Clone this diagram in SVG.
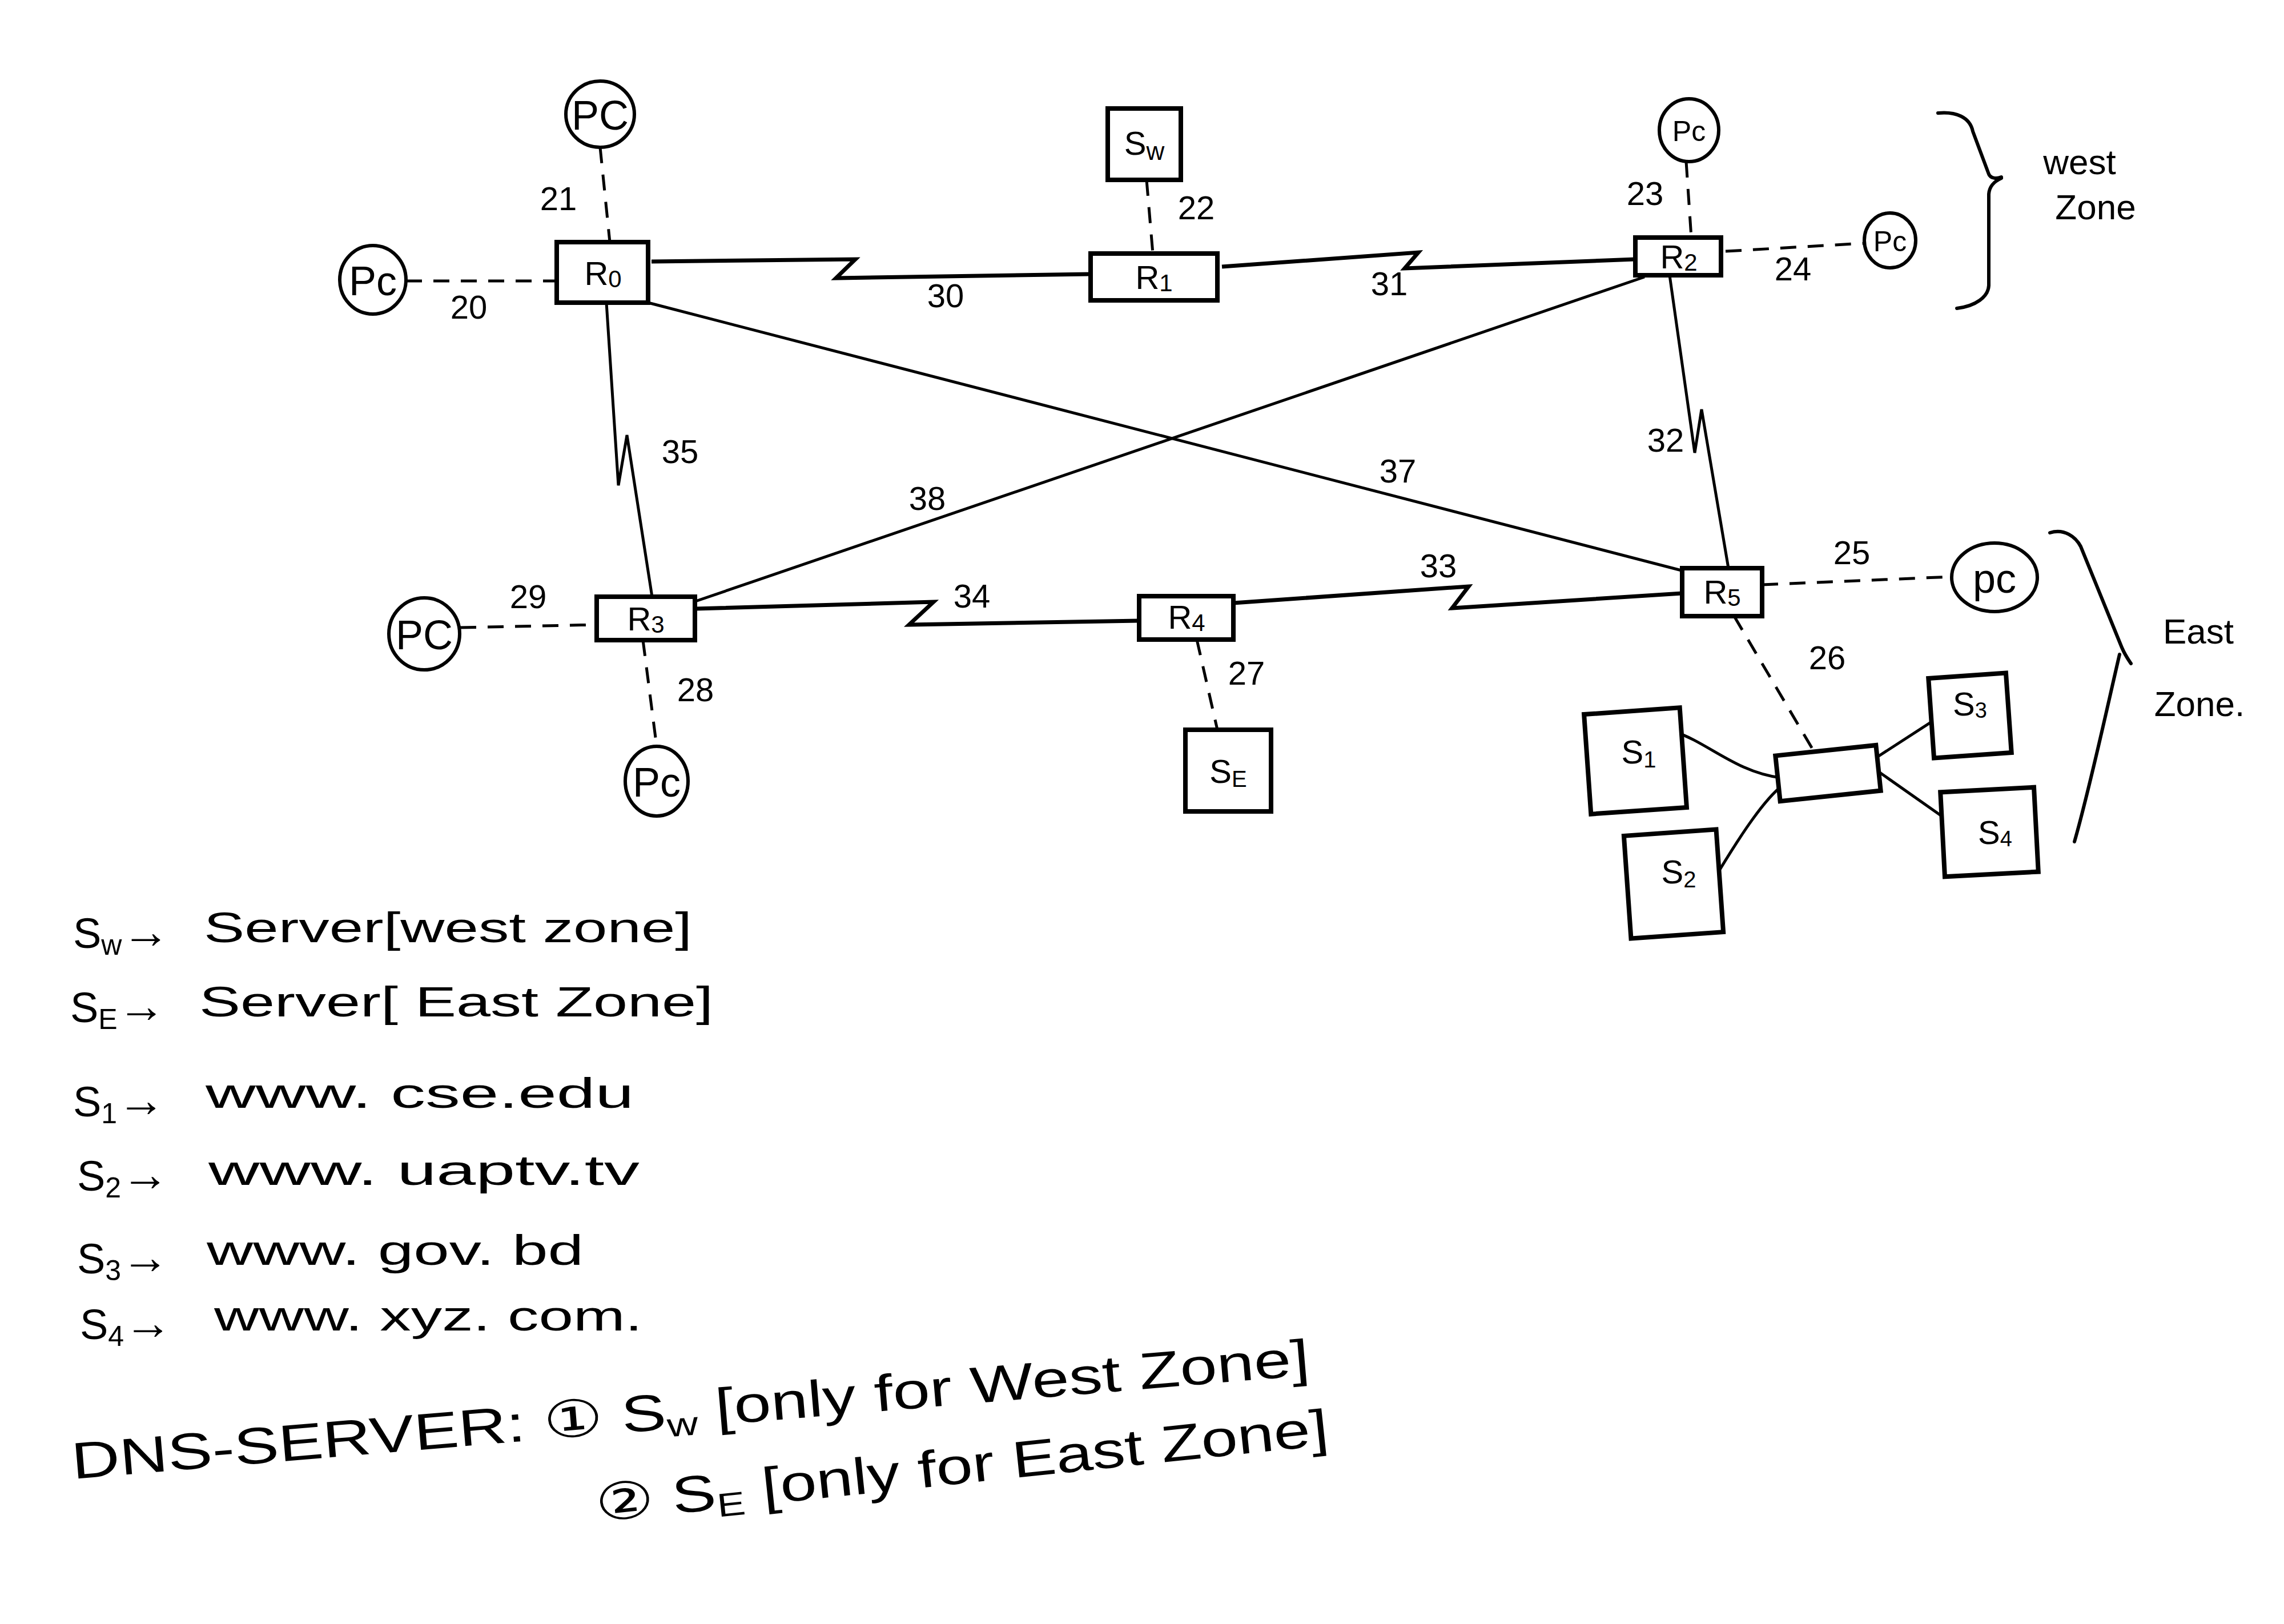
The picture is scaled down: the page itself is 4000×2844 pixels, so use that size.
<svg xmlns="http://www.w3.org/2000/svg" width="4000" height="2844" viewBox="0 0 4000 2844">
<style>
.box{fill:#fff;stroke:#000;stroke-width:8}
.pc{fill:#fff;stroke:#000;stroke-width:6}
.ser{fill:none;stroke:#000;stroke-width:7;stroke-linejoin:miter}
.thin{fill:none;stroke:#000;stroke-width:5}
.dash{fill:none;stroke:#000;stroke-width:5;stroke-dasharray:28 20}
.brace{fill:none;stroke:#000;stroke-width:6;stroke-linecap:round}
text{font-family:"Liberation Sans","DejaVu Sans",sans-serif;fill:#000}
.lbl{font-size:58px;text-anchor:middle;dominant-baseline:central}
.nd{font-size:58px;text-anchor:middle;dominant-baseline:central}
.pct{font-size:72px;text-anchor:middle;dominant-baseline:central}
.pcs{font-size:50px;text-anchor:middle;dominant-baseline:central}
.leg{font-size:74px}
.arr{font-size:84px}
.dns{font-size:90px}
.zone{font-size:62px;text-anchor:middle;dominant-baseline:central}
</style>
<rect x="0" y="0" width="4000" height="2844" fill="#fff"/>

<g id="connectors">
  <line class="dash" x1="1051" y1="258" x2="1068" y2="424"/>
  <line class="dash" x1="711" y1="492" x2="975" y2="492"/>
  <line class="dash" x1="2008" y1="315" x2="2019" y2="444"/>
  <polyline class="ser" points="1141,458 1498,454 1464,487 1910,480"/>
  <polyline class="ser" points="2140,467 2484,442 2460,470 2864,454"/>
  <line class="dash" x1="2953" y1="283" x2="2962" y2="416"/>
  <line class="dash" x1="3022" y1="440" x2="3265" y2="426"/>
  <polyline class="thin" points="1062,530 1083,850 1098,762 1142,1045"/>
  <polyline class="thin" points="2924,482 2968,793 2980,717 3027,995"/>
  <line class="thin" x1="1135" y1="530" x2="2968" y2="1005"/>
  <line class="thin" x1="2880" y1="485" x2="1215" y2="1054"/>
  <polyline class="ser" points="1218,1066 1635,1054 1592,1094 1995,1087"/>
  <polyline class="ser" points="2160,1056 2572,1027 2543,1065 2946,1039"/>
  <line class="dash" x1="806" y1="1099" x2="1045" y2="1094"/>
  <line class="dash" x1="1126" y1="1121" x2="1150" y2="1307"/>
  <line class="dash" x1="2096" y1="1120" x2="2132" y2="1278"/>
  <line class="dash" x1="3086" y1="1024" x2="3418" y2="1010"/>
  <line class="dash" x1="3037" y1="1079" x2="3178" y2="1318"/>
  <path class="thin" d="M2934,1282 C2990,1300 3040,1352 3118,1362"/>
  <path class="thin" d="M3010,1526 C3050,1460 3090,1400 3122,1375"/>
  <line class="thin" x1="3281" y1="1330" x2="3406" y2="1249"/>
  <line class="thin" x1="3288" y1="1350" x2="3416" y2="1440"/>
</g>

<g id="link-labels">
  <text class="lbl" x="978" y="347">21</text>
  <text class="lbl" x="821" y="537">20</text>
  <text class="lbl" x="2095" y="363">22</text>
  <text class="lbl" x="1656" y="517">30</text>
  <text class="lbl" x="2433" y="496">31</text>
  <text class="lbl" x="2881" y="338">23</text>
  <text class="lbl" x="3140" y="470">24</text>
  <text class="lbl" x="1191" y="790">35</text>
  <text class="lbl" x="1624" y="872">38</text>
  <text class="lbl" x="2448" y="824">37</text>
  <text class="lbl" x="2917" y="770">32</text>
  <text class="lbl" x="925" y="1044">29</text>
  <text class="lbl" x="1218" y="1207">28</text>
  <text class="lbl" x="1702" y="1043">34</text>
  <text class="lbl" x="2183" y="1178">27</text>
  <text class="lbl" x="2519" y="990">33</text>
  <text class="lbl" x="3243" y="967">25</text>
  <text class="lbl" x="3200" y="1151">26</text>
</g>

<g id="pc-r0-top"><ellipse class="pc" cx="1051" cy="200" rx="60" ry="58"/><text class="pct" x="1051" y="202">PC</text></g>
<g id="pc-r0-left"><ellipse class="pc" cx="653" cy="490" rx="58" ry="60"/><text class="pct" x="653" y="492">Pc</text></g>
<g id="R0"><rect class="box" x="975" y="424" width="160" height="106"/><text class="nd" x="1056" y="478">R<tspan font-size="42" dy="10">0</tspan></text></g>
<g id="Sw"><rect class="box" x="1940" y="190" width="128" height="125"/><text class="nd" x="2004" y="250" font-size="66">S<tspan font-size="44" dy="14">w</tspan></text></g>
<g id="R1"><rect class="box" x="1910" y="444" width="222" height="82"/><text class="nd" x="2021" y="485">R<tspan font-size="42" dy="10">1</tspan></text></g>
<g id="R2"><rect class="box" x="2864" y="416" width="150" height="66"/><text class="nd" x="2940" y="449">R<tspan font-size="42" dy="10">2</tspan></text></g>
<g id="pc-r2-top"><ellipse class="pc" cx="2958" cy="228" rx="52" ry="55"/><text class="pcs" x="2958" y="230">Pc</text></g>
<g id="pc-r2-right"><ellipse class="pc" cx="3310" cy="421" rx="45" ry="48"/><text class="pcs" x="3310" y="423" font-size="44">Pc</text></g>
<g id="R3"><rect class="box" x="1045" y="1045" width="172" height="76"/><text class="nd" x="1131" y="1083">R<tspan font-size="42" dy="10">3</tspan></text></g>
<g id="pc-r3-left"><ellipse class="pc" cx="743" cy="1110" rx="62" ry="63"/><text class="pct" x="743" y="1112">PC</text></g>
<g id="pc-r3-bottom"><ellipse class="pc" cx="1150" cy="1368" rx="55" ry="61"/><text class="pct" x="1150" y="1370" font-size="64">Pc</text></g>
<g id="R4"><rect class="box" x="1995" y="1044" width="165" height="76"/><text class="nd" x="2078" y="1080">R<tspan font-size="42" dy="10">4</tspan></text></g>
<g id="SE"><rect class="box" x="2076" y="1278" width="150" height="143"/><text class="nd" x="2151" y="1350" font-size="66">S<tspan font-size="40" dy="14">E</tspan></text></g>
<g id="R5"><rect class="box" x="2946" y="995" width="140" height="84"/><text class="nd" x="3016" y="1036">R<tspan font-size="42" dy="10">5</tspan></text></g>
<g id="pc-r5-right"><ellipse class="pc" cx="3493" cy="1011" rx="75" ry="60"/><text class="pct" x="3493" y="1013" font-size="64">pc</text></g>
<g id="switch"><rect class="box" x="3113" y="1314" width="177" height="80" transform="rotate(-6 3202 1354)"/></g>
<g id="S1"><rect class="box" x="2780" y="1245" width="168" height="175" transform="rotate(-4 2864 1332)"/><text class="nd" x="2870" y="1316" font-size="60">S<tspan font-size="40" dy="14">1</tspan></text></g>
<g id="S2"><rect class="box" x="2850" y="1458" width="162" height="180" transform="rotate(-4 2931 1548)"/><text class="nd" x="2940" y="1526" font-size="60">S<tspan font-size="40" dy="14">2</tspan></text></g>
<g id="S3"><rect class="box" x="3382" y="1183" width="136" height="140" transform="rotate(-4 3450 1253)"/><text class="nd" x="3450" y="1232" font-size="56">S<tspan font-size="38" dy="12">3</tspan></text></g>
<g id="S4"><rect class="box" x="3402" y="1383" width="164" height="148" transform="rotate(-3 3484 1457)"/><text class="nd" x="3494" y="1457" font-size="56">S<tspan font-size="38" dy="12">4</tspan></text></g>

<g id="west-zone">
  <path class="brace" d="M3394,198 C3425,195 3450,205 3455,230 L3483,305 C3486,312 3496,314 3505,310 M3505,312 C3492,318 3484,326 3483,340 L3483,500 C3482,520 3460,536 3427,540"/>
  <text class="zone" x="3642" y="283">west</text>
  <text class="zone" x="3670" y="362">Zone</text>
</g>
<g id="east-zone">
  <path class="brace" d="M3590,933 C3615,925 3635,940 3644,957 L3716,1134 C3722,1148 3728,1156 3732,1162 M3712,1146 C3690,1240 3660,1380 3633,1474"/>
  <text class="zone" x="3850" y="1105">East</text>
  <text class="zone" x="3852" y="1232">Zone.</text>
</g>

<g id="legend">
  <text class="leg" x="128" y="1660">S<tspan font-size="50" dy="12">w</tspan><tspan class="arr" dy="-12">→</tspan></text>
  <text class="leg" x="357" y="1650" textLength="855" lengthAdjust="spacingAndGlyphs">Server[west zone]</text>
  <text class="leg" x="123" y="1790">S<tspan font-size="50" dy="12">E</tspan><tspan class="arr" dy="-12">→</tspan></text>
  <text class="leg" x="349" y="1780" textLength="900" lengthAdjust="spacingAndGlyphs">Server[ East Zone]</text>
  <text class="leg" x="128" y="1955">S<tspan font-size="50" dy="12">1</tspan><tspan class="arr" dy="-12">→</tspan></text>
  <text class="leg" x="360" y="1940" textLength="750" lengthAdjust="spacingAndGlyphs">www. cse.edu</text>
  <text class="leg" x="135" y="2085">S<tspan font-size="50" dy="12">2</tspan><tspan class="arr" dy="-12">→</tspan></text>
  <text class="leg" x="365" y="2075" textLength="755" lengthAdjust="spacingAndGlyphs">www. uaptv.tv</text>
  <text class="leg" x="135" y="2230">S<tspan font-size="50" dy="12">3</tspan><tspan class="arr" dy="-12">→</tspan></text>
  <text class="leg" x="362" y="2215" textLength="660" lengthAdjust="spacingAndGlyphs">www. gov. bd</text>
  <text class="leg" x="140" y="2345">S<tspan font-size="50" dy="12">4</tspan><tspan class="arr" dy="-12">→</tspan></text>
  <text class="leg" x="375" y="2330" textLength="750" lengthAdjust="spacingAndGlyphs">www. xyz. com.</text>
</g>

<g id="dns">
  <text class="dns" x="128" y="2590" transform="rotate(-4.8 128 2590)" textLength="2175" lengthAdjust="spacingAndGlyphs">DNS-SERVER: ① S<tspan font-size="58" dy="14">w</tspan><tspan dy="-14"> [only for West Zone]</tspan></text>
  <text class="dns" x="1046" y="2665" transform="rotate(-6 1046 2665)" textLength="1290" lengthAdjust="spacingAndGlyphs">② S<tspan font-size="58" dy="14">E</tspan><tspan dy="-14"> [only for East Zone]</tspan></text>
</g>
</svg>
